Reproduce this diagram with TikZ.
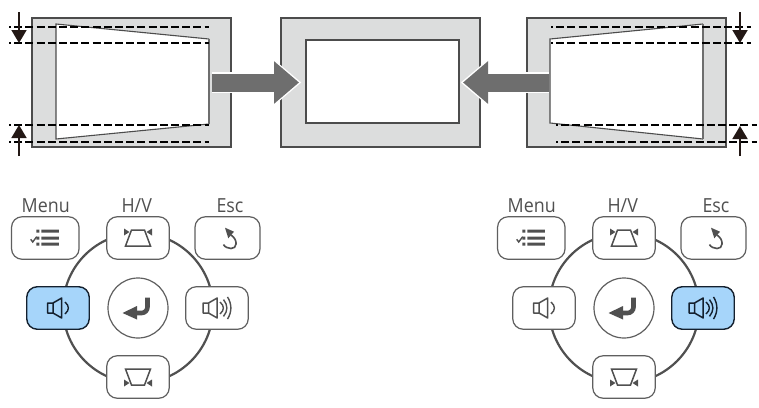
\documentclass[tikz,border=0pt]{standalone}
\usepackage{fontspec}
\setmainfont[FakeStretch=0.92]{Open Sans}
\usepackage{tikz}
\usetikzlibrary{positioning,arrows.meta}
\definecolor{screengray}{HTML}{DCDDDD}
\definecolor{linegray}{HTML}{4C4C4C}
\definecolor{arrowgray}{HTML}{6E6E6E}
\definecolor{keyblue}{HTML}{A6D5FA}
\definecolor{keyline}{HTML}{5F5F5F}
\definecolor{keyink}{HTML}{505050}
\definecolor{keydark}{HTML}{14202E}
\definecolor{pinchblack}{HTML}{231815}
\tikzset{
    screen node/.style={rectangle,draw=linegray,fill=screengray,line width=1.2pt,inner sep=0},
    guide/.style={draw=black,line width=1.9pt,dash pattern=on 8pt off 3.2pt,dash phase=6pt},
    pinch/.style={draw=pinchblack,line width=1.8pt,-{Triangle[width=15pt,length=13pt]}},
    big arrow/.style={draw=arrowgray,line width=18pt,-{Triangle[width=41pt,length=25pt]}},
    big halo/.style={draw=white,line width=20.5pt,shorten >=-2.4pt,-{Triangle[width=45pt,length=28pt]}},
    key/.style={rectangle,rounded corners=10.5pt,draw=keyline,fill=white,line width=1.2pt,inner sep=0,minimum height=42.5pt},
    key on/.style={key,draw=keydark,fill=keyblue,line width=1.4pt},
    key label/.style={anchor=base,text=keyink,font=\fontsize{19.4}{21}\selectfont,inner sep=0},
    pics/menu icon/.style={code={
        \fill (-9,-8.5) rectangle (-6,-5.5) (-9,-1.5) rectangle (-6,1.5) (-9,4.5) rectangle (-6,7.5);
        \fill (-4,-8.5) rectangle (13.5,-5.5) (-4,-1.5) rectangle (13.5,1.5) (-4,4.5) rectangle (13.5,7.5);
        \draw[line width=1.4pt] (-14.6,1.3) -- (-12.6,4) -- (-8.6,-1.3);
    }},
    pics/keystone icon/.style={code={
        \draw[line width=1.5pt,line join=miter] (-6.5,-8) -- (6.5,-8) -- (12.5,8) -- (-12.5,8) -- cycle;
        \fill (-14,-9.5) -- (-8.5,-6) -- (-14,-2.5) -- cycle (14,-9.5) -- (8.5,-6) -- (14,-2.5) -- cycle;
    }},
    pics/esc icon/.style={code={
        \draw[line width=1.6pt] (3.5,-3) .. controls (11,2) and (9.5,11) .. (3.5,10.5) .. controls (0.5,10.3) and (-3,9) .. (-4,6.5);
        \fill (-2.5,-10.3) -- (6.5,-6.3) -- (0.8,0.3) -- cycle;
    }},
    pics/enter icon/.style={code={
        \draw[line width=4.6pt] (-2,5) -- (3.5,5) arc[start angle=90,end angle=0,radius=6] -- (9.5,-10.5);
        \fill (-15.5,5) -- (-1,-2) -- (-1,11.5) -- cycle;
    }},
    pics/speaker icon/.style={code={
        \draw[line width=1.5pt,line join=round] (-5,-5) -- (-10.3,-5) -- (-10.3,5) -- (-5,5) (-5,-5) -- (-5,5) -- (3.7,10) -- (3.7,-10) -- cycle;
    }},
    pics/wave icon/.style={code={
        \draw[line width=1.4pt] (#1,-6) .. controls (#1+4.5,-2) and (#1+4.5,2) .. (#1,6);
    }},
}
\begin{document}
\begin{tikzpicture}[x=1pt,y=-1pt]
    \useasboundingbox (0,0) rectangle (759,407);
    % screens
    \node[screen node,minimum width=199pt,minimum height=129pt] (leftscreen) at (131.5,82.5) {};
    \node[screen node,minimum width=199pt,minimum height=129pt] (midscreen) at (380.5,82.5) {};
    \node[screen node,minimum width=199pt,minimum height=129pt] (rightscreen) at (626.5,82.5) {};
    \node[rectangle,draw=linegray,fill=white,line width=1.1pt,inner sep=0,minimum width=153pt,minimum height=83pt] (midimage) at (382.5,81.5) {};
    \fill[white] (209,39) -- (56,24) -- (56,139) -- (209,124) -- cycle;
    \draw[line width=1.1pt,draw=linegray] (209,39) -- (56,24) -- (56,139) -- (209,124);
    \draw[line width=1.2pt,draw=arrowgray] (209,39) -- (209,124);
    \fill[white] (703,24) -- (550,39) -- (550,123) -- (703,139) -- cycle;
    \draw[line width=1.1pt,draw=linegray] (703,24) -- (550,39) -- (550,123) -- (703,139);
    \draw[line width=1.2pt,draw=arrowgray] (703,24) -- (703,139);
    % guides
    \draw[guide] (9,27) -- (209,27);
    \draw[guide] (9,43) -- (209,43);
    \draw[guide] (9,125) -- (209,125);
    \draw[guide] (9,142) -- (209,142);
    \draw[guide] (551,27) -- (751,27);
    \draw[guide] (551,43) -- (751,43);
    \draw[guide] (556,125) -- (757,125);
    \draw[guide] (556,142) -- (757,142);
    % pinch arrows
    \coordinate (lttail) at (19,12);
    \coordinate (lttip) at (19,43);
    \coordinate (lbtail) at (19,156);
    \coordinate (lbtip) at (19,125);
    \coordinate (rttail) at (740,12);
    \coordinate (rttip) at (740,43);
    \coordinate (rbtail) at (740,156);
    \coordinate (rbtip) at (740,126);
    \draw[pinch] (lttail) -- (lttip);
    \draw[pinch] (lbtail) -- (lbtip);
    \draw[pinch] (rttail) -- (rttip);
    \draw[pinch] (rbtail) -- (rbtip);
    % big arrows
    \coordinate (leftfrom) at (212,82.5);
    \coordinate (leftto) at (299,82.5);
    \coordinate (rightfrom) at (549,82.5);
    \coordinate (rightto) at (463,82.5);
    \draw[big halo] (leftfrom) -- (leftto);
    \draw[big halo] (rightfrom) -- (rightto);
    \draw[big arrow] (leftfrom) -- (leftto);
    \draw[big arrow] (rightfrom) -- (rightto);
    % keypads
    \foreach \n/\ox/\lstyle/\rstyle/\lcol/\rcol in {a/0/key on/key/keydark/keyink,b/486/key/key on/keyink/keydark}{
        \coordinate (ring\n) at (138+\ox,308);
        \draw[draw=keyink,line width=2.2pt] (ring\n) circle[radius=75pt];
        \node[key,minimum width=67.5pt] (menu\n) at (45.3+\ox,238) {};
        \node[key,minimum width=62.5pt] (hv\n) at (138+\ox,238) {};
        \node[key,minimum width=65pt] (esc\n) at (227.5+\ox,238) {};
        \node[\lstyle,minimum width=62.5pt] (down\n) at (58+\ox,308) {};
        \node[\rstyle,minimum width=62.5pt] (up\n) at (217+\ox,308) {};
        \node[key,minimum width=62.5pt] (low\n) at (138+\ox,377) {};
        \node[circle,draw=keyline,fill=white,line width=1.2pt,inner sep=0,minimum size=60pt] (enter\n) at (138+\ox,308) {};
        \node[key label] (menulabel\n) at (45.7+\ox,212) {Menu};
        \node[key label] (hvlabel\n) at (136.7+\ox,212) {H/V};
        \node[key label] (esclabel\n) at (230+\ox,212) {Esc};
        \pic[color=keyink] at (menu\n) {menu icon};
        \pic[color=keyink] at (hv\n) {keystone icon};
        \pic[color=keyink] at (esc\n) {esc icon};
        \pic[color=keyink] at (enter\n) {enter icon};
        \pic[color=keyink,yscale=-1] at (low\n) {keystone icon};
        \pic[color=\lcol] at (down\n) {speaker icon};
        \pic[color=\lcol] at (down\n) {wave icon=7};
        \pic[color=\rcol,xshift=-3.5pt] at (up\n) {speaker icon};
        \pic[color=\rcol] at (up\n) {wave icon=3};
        \pic[color=\rcol,yscale=1.4] at (up\n) {wave icon=6.5};
        \pic[color=\rcol,yscale=1.85] at (up\n) {wave icon=10.5};
    }
\end{tikzpicture}
\end{document}
